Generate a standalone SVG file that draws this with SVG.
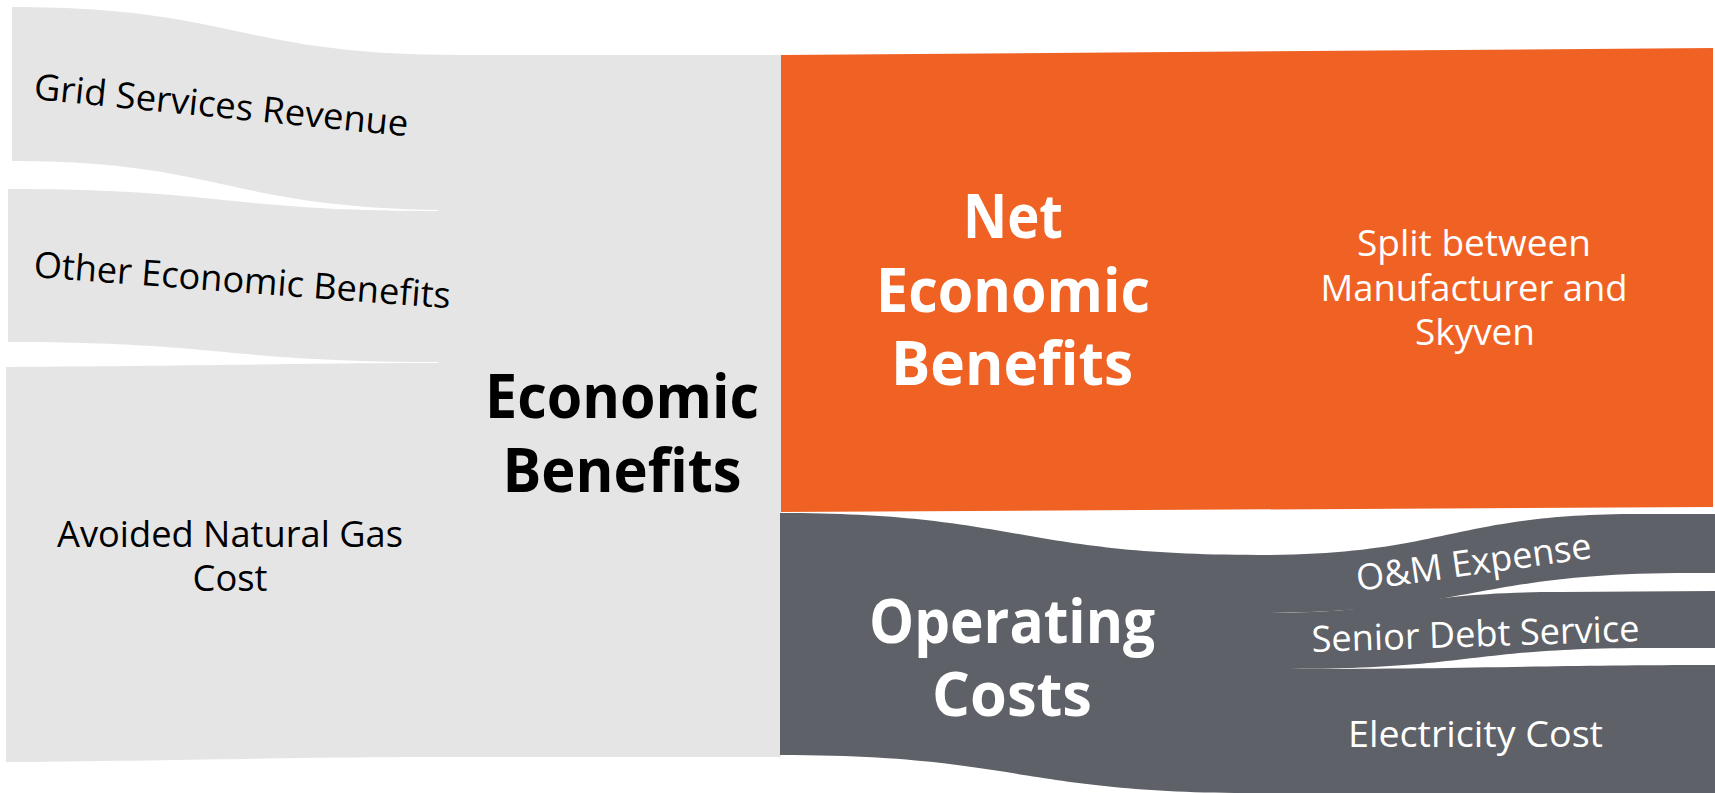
<svg xmlns="http://www.w3.org/2000/svg" width="1715" height="793" viewBox="0 0 1715 793">
  <style>
    .benefit { fill: #e5e5e5; }
    .net { fill: #f06224; }
    .cost { fill: #5f6168; }
    .lbl { font-family: "Open Sans", "Liberation Sans", sans-serif; font-size: 36px; }
    .big { font-family: "Open Sans", "Liberation Sans", sans-serif; font-size: 61px; font-weight: 700; }
    .dark { fill: #000000; }
    .light { fill: #ffffff; }
    .mid { text-anchor: middle; }
  </style>
  <rect width="1715" height="793" fill="#ffffff"/>

  <!-- Sankey bands (flows into and out of the central nodes) -->
  <g id="links">
    <path id="link-grid" class="benefit" d="M12,7 C236,7 236,55 460,55 L460,210 C226,210 226,161 12,161 Z"/>
    <path id="link-other" class="benefit" d="M8,189 C224,189 224,211 440,211 L440,362 C224,362 224,342 8,342 Z"/>
    <path id="link-avoided" class="benefit" d="M6,367 C220,366 300,363 440,363 L440,757 C300,757 220,760 6,762 Z"/>
    <path id="link-om" class="cost" d="M1256,555 C1448,555 1448,514 1640,514 L1715,514 L1715,573 L1690,573 C1473,573 1473,613 1256,613 Z"/>
    <path id="link-senior" class="cost" d="M1256,613 C1408,613 1408,592 1560,592 L1715,591 L1715,648 L1650,648 C1470,648 1470,669 1290,669 L1256,669 Z"/>
    <path id="link-electricity" class="cost" d="M1256,669 L1290,669 C1470,669 1550,665 1715,665 L1715,793 L1256,793 Z"/>
  </g>

  <!-- Central node: total benefits -->
  <g id="node-economic-benefits">
    <rect class="benefit" x="438" y="55" width="343" height="702"/>
    <text class="big dark mid" x="622" y="418" textLength="274" lengthAdjust="spacingAndGlyphs">Economic</text>
    <text class="big dark mid" x="622" y="492" textLength="239" lengthAdjust="spacingAndGlyphs">Benefits</text>
  </g>

  <!-- Source labels -->
  <g id="node-grid-services">
    <text class="lbl dark" x="33" y="99" textLength="376" lengthAdjust="spacingAndGlyphs" transform="rotate(5.7 33 99)">Grid Services Revenue</text>
  </g>
  <g id="node-other-benefits">
    <text class="lbl dark" x="33" y="277" textLength="418" lengthAdjust="spacingAndGlyphs" transform="rotate(4.3 33 277)">Other Economic Benefits</text>
  </g>
  <g id="node-avoided-gas">
    <text class="lbl dark mid" x="230" y="547" textLength="346" lengthAdjust="spacingAndGlyphs">Avoided Natural Gas</text>
    <text class="lbl dark mid" x="230" y="591" textLength="75" lengthAdjust="spacingAndGlyphs">Cost</text>
  </g>

  <!-- Net benefits -->
  <g id="node-net-benefits">
    <path class="net" d="M781,55 L1713,48 L1713,507 L781,512 Z"/>
    <text class="big light mid" x="1013" y="238" textLength="100" lengthAdjust="spacingAndGlyphs">Net</text>
    <text class="big light mid" x="1013" y="312" textLength="274" lengthAdjust="spacingAndGlyphs">Economic</text>
    <text class="big light mid" x="1012" y="385" textLength="242" lengthAdjust="spacingAndGlyphs">Benefits</text>
    <text class="lbl light mid" x="1474" y="256" textLength="234" lengthAdjust="spacingAndGlyphs">Split between</text>
    <text class="lbl light mid" x="1474" y="301" textLength="307" lengthAdjust="spacingAndGlyphs">Manufacturer and</text>
    <text class="lbl light mid" x="1475" y="345" textLength="120" lengthAdjust="spacingAndGlyphs">Skyven</text>
  </g>

  <!-- Operating costs -->
  <g id="node-operating-costs">
    <path class="cost" d="M780,513 C1018,513 1018,555 1258,555 L1258,793 L1257,793 C1018,793 1018,755 780,755 Z"/>
    <text class="big light mid" x="1012" y="643" textLength="286" lengthAdjust="spacingAndGlyphs">Operating</text>
    <text class="big light mid" x="1012" y="716" textLength="160" lengthAdjust="spacingAndGlyphs">Costs</text>
  </g>

  <!-- Cost breakdown labels -->
  <g id="node-om">
    <text class="lbl light" x="1358" y="591" textLength="237" lengthAdjust="spacingAndGlyphs" transform="rotate(-8 1358 591)">O&amp;M Expense</text>
  </g>
  <g id="node-senior-debt">
    <text class="lbl light" x="1312" y="652" textLength="328" lengthAdjust="spacingAndGlyphs" transform="rotate(-1.9 1312 652)">Senior Debt Service</text>
  </g>
  <g id="node-electricity">
    <text class="lbl light" x="1348" y="747" textLength="255" lengthAdjust="spacingAndGlyphs">Electricity Cost</text>
  </g>
</svg>
